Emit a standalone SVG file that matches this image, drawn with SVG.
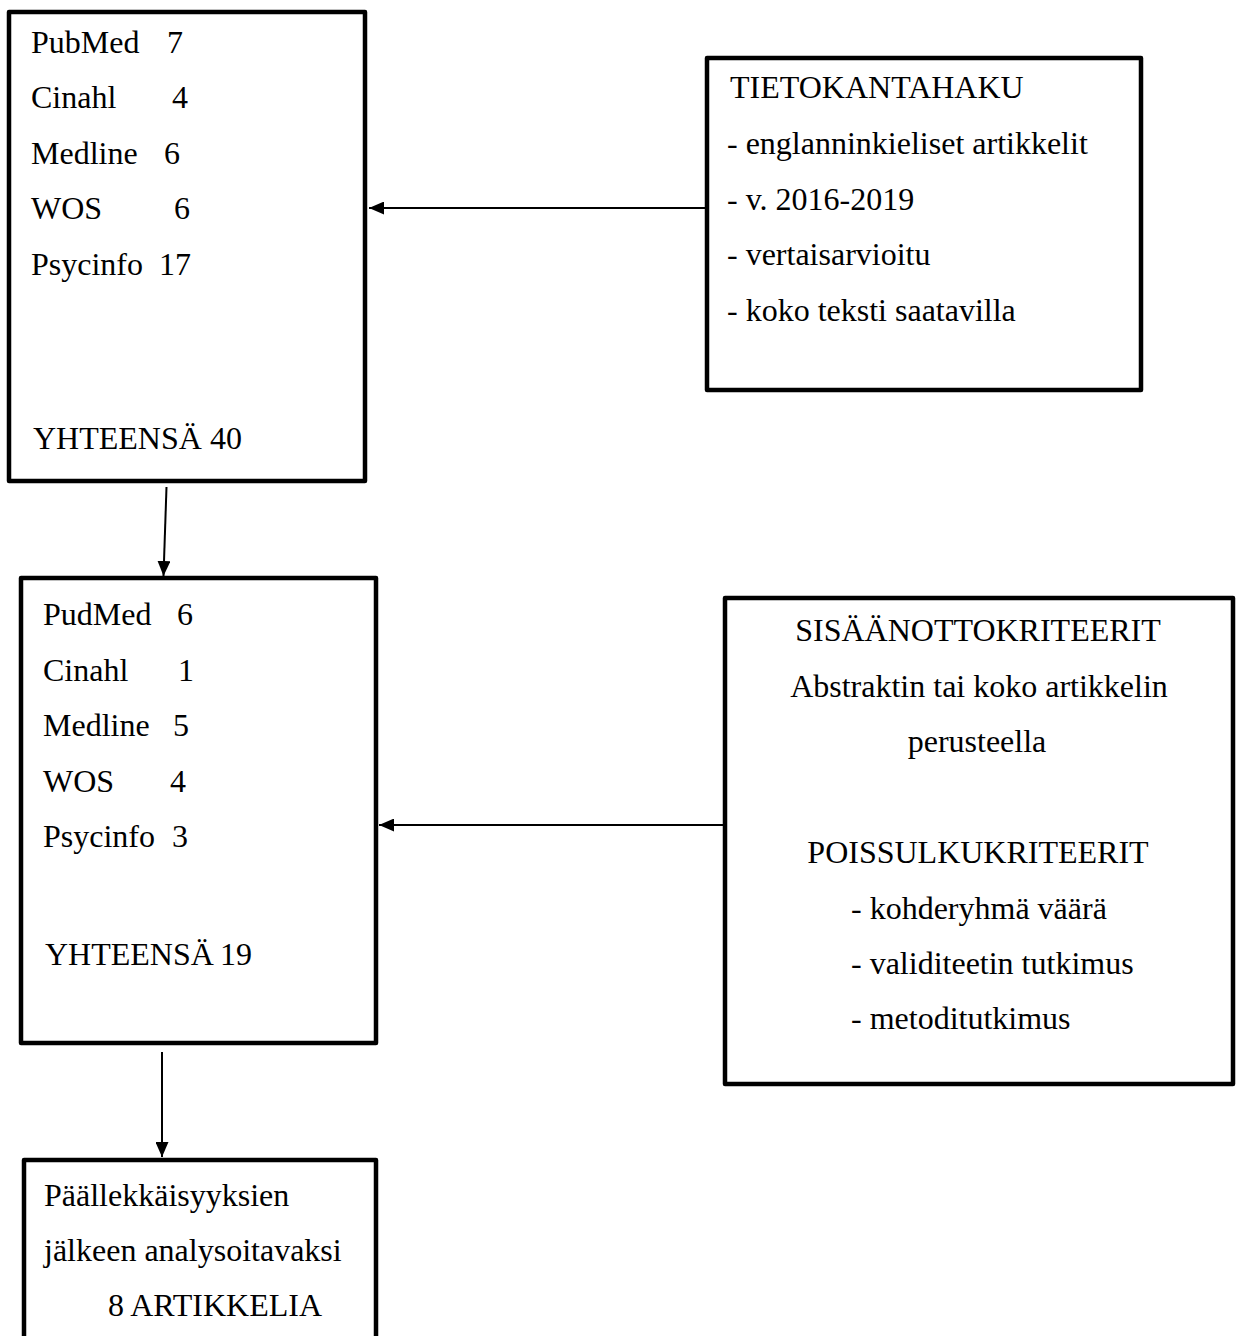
<svg xmlns="http://www.w3.org/2000/svg" width="1236" height="1336" viewBox="0 0 1236 1336">
<defs>
<marker id="ah" viewBox="0 0 15 13" refX="15" refY="6.5" markerWidth="15" markerHeight="13" markerUnits="userSpaceOnUse" orient="auto">
<path d="M0,0 L15,6.5 L0,13 Z" fill="#000"/>
</marker>
<style>
.box{fill:#fff;stroke:#000;stroke-width:4.5;stroke-linejoin:round}
.t{font-family:"Liberation Serif","Times New Roman",serif;font-size:32px;fill:#000}
.c{text-anchor:middle}
.con{stroke:#000;stroke-width:2;fill:none;marker-end:url(#ah)}
</style>
</defs>
<rect width="1236" height="1336" fill="#fff"/>
<g id="n1">
<rect class="box" x="9" y="12" width="356" height="469"/>
<text class="t" x="31" y="53">PubMed <tspan x="167">7</tspan></text>
<text class="t" x="31" y="108">Cinahl <tspan x="172">4</tspan></text>
<text class="t" x="31" y="164">Medline <tspan x="164">6</tspan></text>
<text class="t" x="31" y="219">WOS <tspan x="174">6</tspan></text>
<text class="t" x="31" y="275">Psycinfo <tspan x="159">17</tspan></text>
<text class="t" x="33" y="449">YHTEENSÄ 40</text>
</g>
<g id="n2">
<rect class="box" x="707" y="58" width="434" height="332"/>
<text class="t" x="730" y="98">TIETOKANTAHAKU</text>
<text class="t" x="727" y="154">- englanninkieliset artikkelit</text>
<text class="t" x="727" y="210">- v. 2016-2019</text>
<text class="t" x="727" y="265">- vertaisarvioitu</text>
<text class="t" x="727" y="321">- koko teksti saatavilla</text>
</g>
<g id="n3">
<rect class="box" x="21" y="578" width="355" height="465"/>
<text class="t" x="43" y="625">PudMed <tspan x="177">6</tspan></text>
<text class="t" x="43" y="681">Cinahl <tspan x="178">1</tspan></text>
<text class="t" x="43" y="736">Medline <tspan x="173">5</tspan></text>
<text class="t" x="43" y="792">WOS <tspan x="170">4</tspan></text>
<text class="t" x="43" y="847">Psycinfo <tspan x="172">3</tspan></text>
<text class="t" x="45" y="965">YHTEENSÄ <tspan x="220">19</tspan></text>
</g>
<g id="n4">
<rect class="box" x="725" y="598" width="508" height="486"/>
<text class="t c" x="978" y="641">SISÄÄNOTTOKRITEERIT</text>
<text class="t c" x="979" y="697">Abstraktin tai koko artikkelin</text>
<text class="t c" x="977" y="752">perusteella</text>
<text class="t c" x="978" y="863">POISSULKUKRITEERIT</text>
<text class="t" x="851" y="919">- kohderyhmä väärä</text>
<text class="t" x="851" y="974">- validiteetin tutkimus</text>
<text class="t" x="851" y="1029">- metoditutkimus</text>
</g>
<g id="n5">
<rect class="box" x="24" y="1160" width="352" height="200"/>
<text class="t" x="44" y="1206">Päällekkäisyyksien</text>
<text class="t" x="44" y="1261">jälkeen analysoitavaksi</text>
<text class="t" x="108" y="1316">8 ARTIKKELIA</text>
</g>
<g id="connectors">
<line class="con" x1="706" y1="208" x2="369" y2="208"/>
<line class="con" x1="166.5" y1="487" x2="163.5" y2="576"/>
<line class="con" x1="724" y1="825" x2="379" y2="825"/>
<line class="con" x1="162" y1="1052" x2="162" y2="1157"/>
</g>
</svg>
